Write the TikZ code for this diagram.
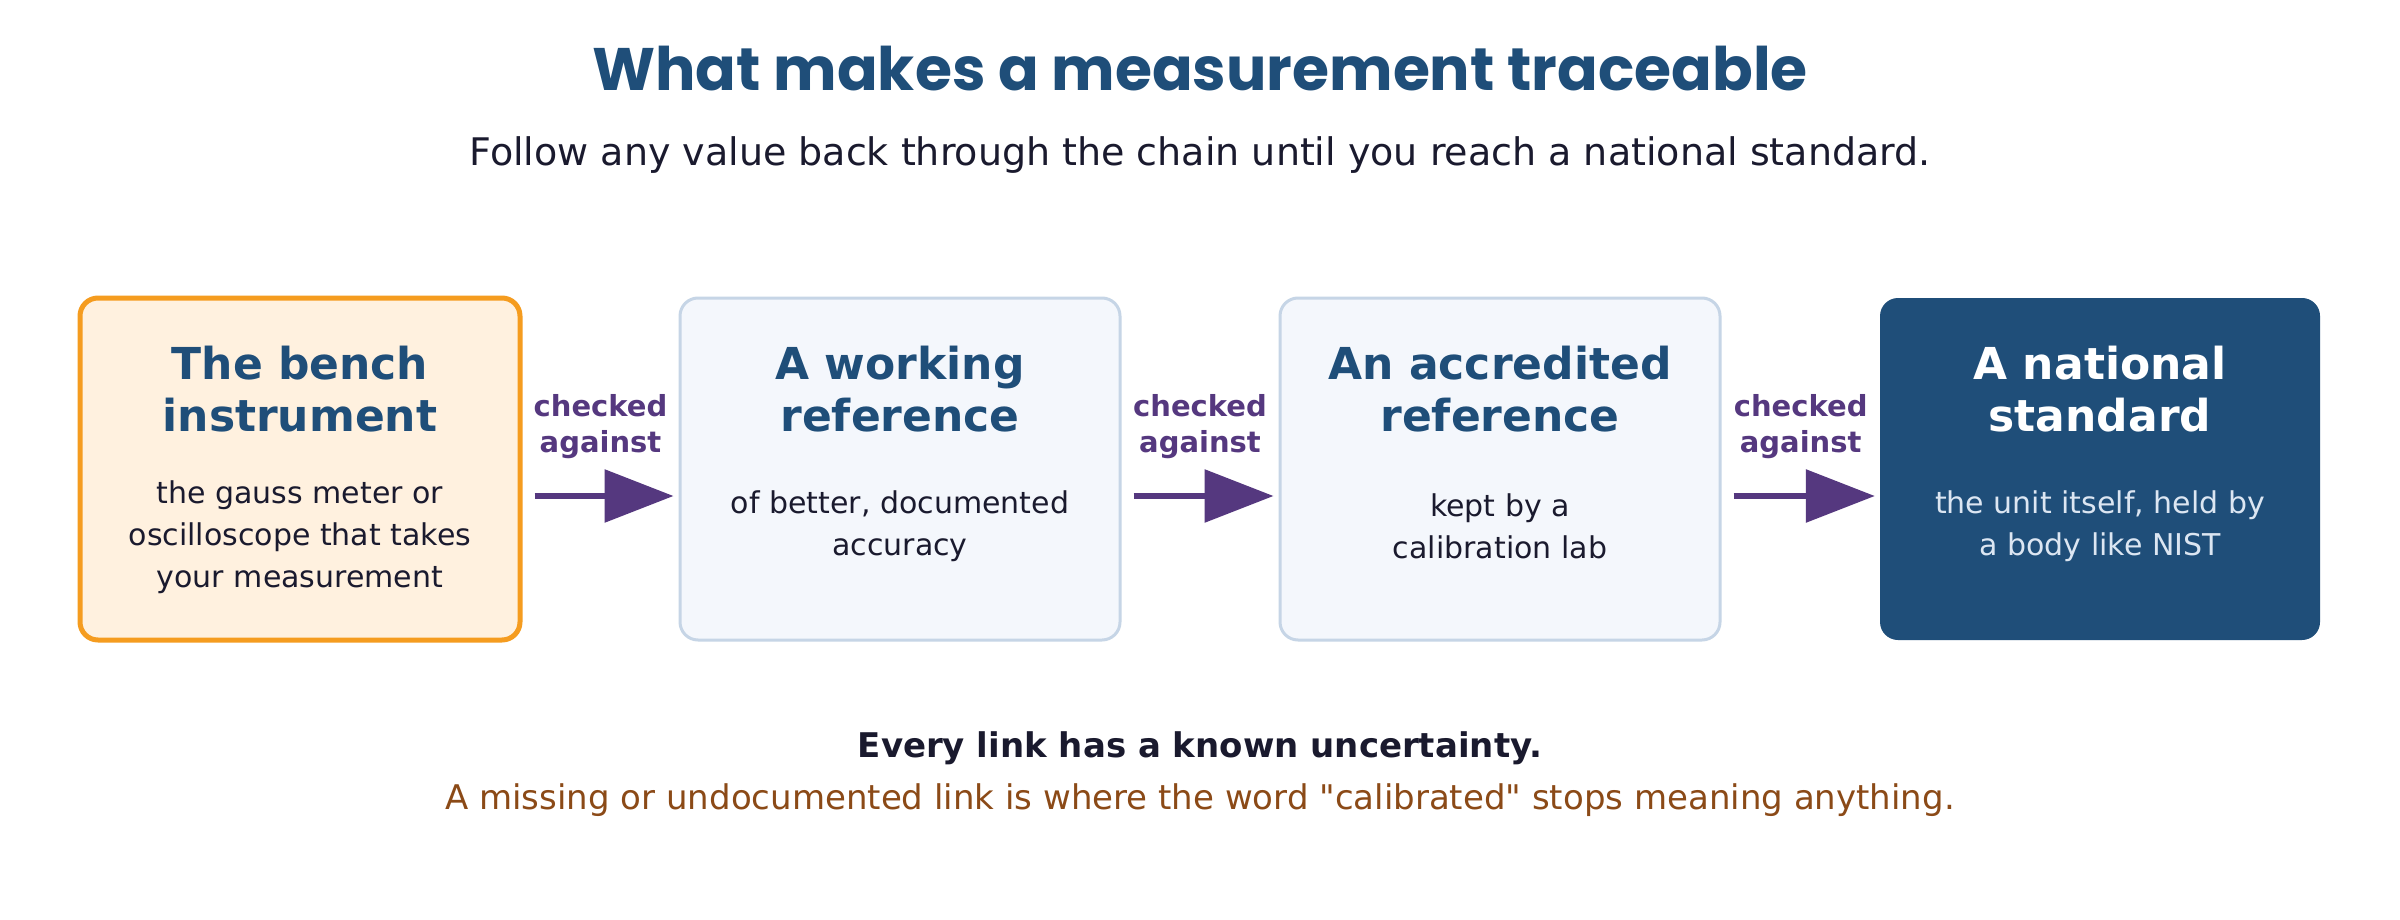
\documentclass[tikz,border=0pt]{standalone}
\usepackage{fontspec}
\setmainfont{DejaVu Sans}
\newfontfamily\headfont{Poppins}
\usepackage{xcolor}
\usetikzlibrary{arrows.meta,positioning,calc}
\definecolor{navy}{HTML}{1F4E79}
\definecolor{ink}{HTML}{1A1A2E}
\definecolor{grape}{HTML}{55387F}
\definecolor{amber}{HTML}{F59C1F}
\definecolor{cream}{HTML}{FFF1DF}
\definecolor{mist}{HTML}{F4F7FC}
\definecolor{haze}{HTML}{C6D5E6}
\definecolor{frost}{HTML}{DCE6F2}
\definecolor{rust}{HTML}{8B4A17}
\tikzset{
  px/.style={x=1pt, y=-1pt},
  t box/.style={rounded corners=18pt, minimum width=440pt, minimum height=342pt, inner sep=0pt},
  t bench/.style={t box, draw=amber, fill=cream, line width=5pt},
  t ref/.style={t box, draw=haze, fill=mist, line width=3pt},
  t natl/.style={t box, fill=navy},
  t name/.style={font=\fontsize{44}{52}\selectfont\bfseries, text=navy, align=center},
  t desc/.style={font=\fontsize{30}{42}\selectfont, text=ink, align=center},
  t chk/.style={font=\fontsize{29}{36}\selectfont\bfseries, text=grape, align=center, inner sep=0pt},
  t link/.style={grape, line width=6pt, -{Triangle[length=69pt, width=52pt]}, shorten <=12pt, shorten >=5pt},
  t head/.style={font=\headfont\fontsize{60}{70}\selectfont\bfseries, text=navy},
  t sub/.style={font=\fontsize{38}{44}\selectfont, text=ink},
  t moral/.style={font=\fontsize{34}{40}\selectfont\bfseries, text=ink},
  t warn/.style={font=\fontsize{34}{40}\selectfont, text=rust},
}
\begin{document}
\begin{tikzpicture}[px]
\useasboundingbox[fill=white] (0,0) rectangle (2400,920);
% ---- heading ----
\node[t head] (title) at (1200,69) {What makes a measurement traceable};
\node[t sub] (subtitle) at (1200,155) {Follow any value back through the chain until you reach a national standard.};
% ---- chain ----
\node[t bench] (bench) at (300,469) {};
\node[t ref] (work) at (900,469) {};
\node[t ref] (accr) at (1500,469) {};
\node[t natl] (natl) at (2100,469) {};
\node[t name] (bench-n) at (300,389) {The bench\\instrument};
\node[t name] (work-n) at (900,389) {A working\\reference};
\node[t name] (accr-n) at (1500,389) {An accredited\\reference};
\node[t name, text=white] (natl-n) at (2100,389) {A national\\standard};
\node[t desc] (bench-d) at (300,537) {the gauss meter or\\oscilloscope that takes\\your measurement};
\node[t desc] (work-d) at (900,526) {of better, documented\\accuracy};
\node[t desc] (accr-d) at (1500,526) {kept by a\\calibration lab};
\node[t desc, text=frost] (natl-d) at (2100,526) {the unit itself, held by\\a body like NIST};
% ---- links ----
\draw[t link] ($(bench.east)+(0,27)$) -- node[t chk, above=34pt] (chk1) {checked\\against} ($(work.west)+(0,27)$);
\draw[t link] ($(work.east)+(0,27)$) -- node[t chk, above=34pt] (chk2) {checked\\against} ($(accr.west)+(0,27)$);
\draw[t link] ($(accr.east)+(0,27)$) -- node[t chk, above=34pt] (chk3) {checked\\against} ($(natl.west)+(0,27)$);
% ---- footer ----
\node[t moral] (moral) at (1200,748) {Every link has a known uncertainty.};
\node[t warn] (warn) at (1200,800) {A missing or undocumented link is where the word \textquotedbl calibrated\textquotedbl{} stops meaning anything.};
\end{tikzpicture}
\end{document}
